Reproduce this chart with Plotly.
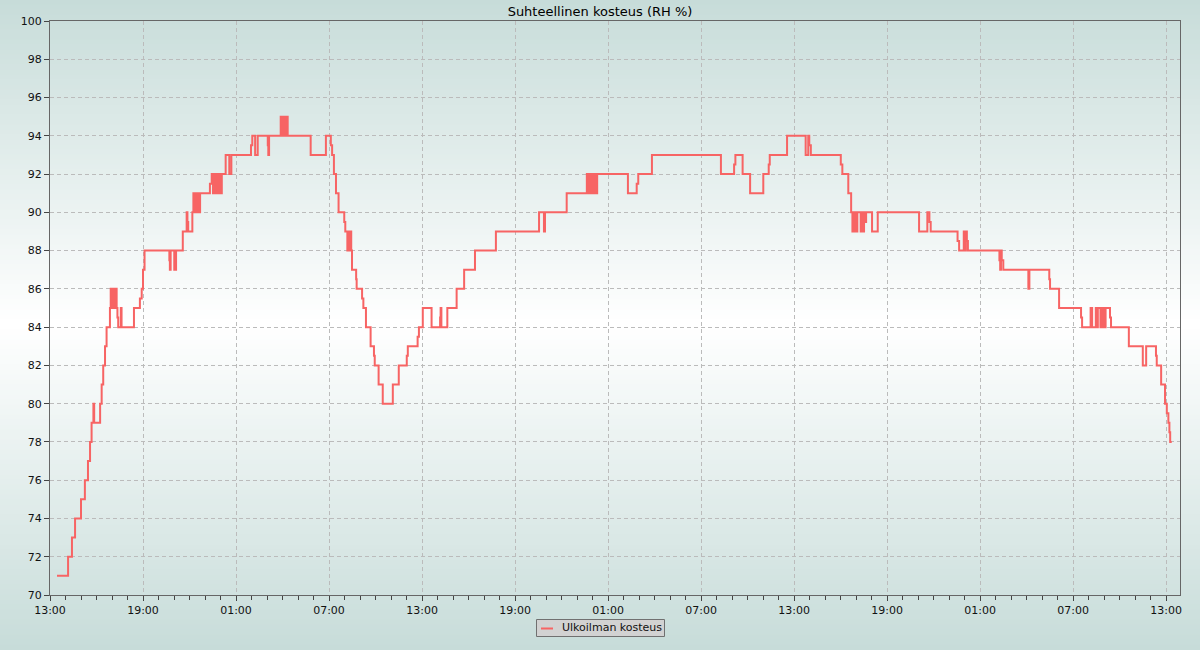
import plotly.graph_objects as go
import pandas as pd

title = "Suhteellinen kosteus (RH %)"
series_name = "Ulkoilman kosteus"
start = "2023-09-12 13:00"

# minutes since start, and RH % values (step series)
offsets = [27, 70, 85, 97, 120, 135, 147, 155, 161, 168, 171, 194, 200, 206, 213, 219, 232,
           235, 240, 245, 250, 255, 258, 261, 264, 274, 277, 325, 348, 355, 360, 366,
           462, 464, 467, 481, 488, 514, 529, 532, 535, 551, 555, 560, 565, 570, 575, 578, 581,
           619, 626, 631, 636, 641, 646, 651, 656, 661, 665, 680, 694, 702, 778, 783, 794, 804,
           843, 845, 848, 893, 897, 901, 905, 909, 913, 917, 920, 1009, 1068, 1087, 1092, 1099,
           1107, 1117, 1139, 1143, 1151, 1154, 1157, 1160, 1166, 1169, 1185, 1187, 1208, 1213,
           1223, 1241, 1254, 1257, 1272, 1288, 1327, 1350, 1381, 1385, 1423, 1428, 1443, 1477,
           1510, 1512, 1515, 1538, 1574, 1603, 1645, 1726, 1893, 1912, 1916, 2000,
           2078, 2082, 2086, 2090, 2094, 2098, 2102, 2106, 2110, 2114, 2118, 2237, 2271, 2277,
           2330, 2597, 2648, 2653, 2681, 2710, 2761, 2782, 2786, 2853, 2925, 2935, 2939, 2945,
           3061, 3067, 3090, 3101, 3106, 3110, 3114, 3118, 3122, 3125, 3138, 3143, 3147, 3151,
           3155, 3159, 3182, 3204, 3364, 3396, 3404, 3409, 3513, 3519, 3537, 3541, 3545, 3549,
           3553, 3675, 3678, 3681, 3684, 3690, 3787, 3791, 3868, 3871, 3906, 3991, 3995,
           4028, 4034, 4048, 4052, 4056, 4066, 4070, 4074, 4078, 4082, 4086, 4103, 4107,
           4176, 4230, 4243, 4281, 4284, 4301, 4316, 4323, 4329, 4333, 4336, 4342]
rh = [71, 72, 73, 74, 75, 76, 77, 78, 79, 80, 79, 80, 81, 82, 83, 84, 85,
      86, 85, 86, 85, 86, 85, 84.5, 84, 85, 84, 85, 85.5, 86, 87, 88,
      87.5, 87, 88, 87, 88, 89, 90, 89.5, 89, 90, 91, 90, 91, 90, 91, 90, 91,
      91.5, 92, 91, 92, 91, 92, 91, 92, 91, 92, 93, 92, 93, 93.5, 94, 93, 94,
      93.5, 93, 94, 95, 94, 95, 94, 95, 94, 95, 94, 93, 94, 93.5, 93, 92,
      91, 90, 89.5, 89, 88, 89, 88, 89, 88, 87, 86.5, 86, 85.5, 85,
      84, 83, 82.5, 82, 81, 80, 81, 82, 82.5, 83, 83.5, 84, 85, 84,
      84.5, 85, 84, 85, 86, 87, 88, 89, 90, 89, 90, 91,
      92, 91, 92, 91, 92, 91, 92, 91, 92, 91, 92, 91, 91.5, 92,
      93, 92, 92.5, 93, 92, 91, 92, 92.5, 93, 94, 93, 94, 93.5, 93,
      92.5, 92, 91, 90, 89, 90, 89, 90, 89, 90, 89, 90, 89, 90,
      89.5, 90, 89, 90, 89, 90, 89.5, 89, 88.5, 88, 89, 88, 89, 88.5,
      88, 87.5, 87, 88, 87.5, 87, 86, 87, 86.5, 86, 85, 84.5, 84,
      85, 84, 85, 84, 85, 84, 85, 84, 85, 84, 85, 84.5, 84,
      83, 82, 83, 82.5, 82, 81, 80, 79.5, 79, 78.5, 78, 78]

y_ticks = list(range(70, 101, 2))

t0 = pd.Timestamp(start)
times = [t0 + pd.Timedelta(minutes=m) for m in offsets]
x_end = t0 + pd.Timedelta(minutes=4374)

W, H = 1200, 650
ML, MR, MT, MB = 50, 20, 21, 55
pw, ph = W - ML - MR, H - MT - MB
LINE_COLOR = "#f76464"

def px_x(x):
    return (x - ML) / pw

def px_y(y):
    return (H - MB - y) / ph

fig = go.Figure()
fig.add_trace(go.Scatter(x=times, y=rh, mode="lines", line=dict(color=LINE_COLOR, width=2, shape="hv"),
                         name=series_name, showlegend=False))

# vertical background gradient (teal edges, white centre)
shapes = []
n = 130
edge = (199, 220, 217)
for i in range(n):
    y0px = i * H / n
    y1px = (i + 1) * H / n
    mid = (y0px + y1px) / 2
    t = abs(mid - H / 2) / (H / 2)
    c = tuple(round(255 - t * (255 - e)) for e in edge)
    shapes.append(dict(type="rect", xref="paper", yref="paper", layer="below",
                       x0=px_x(0) - 0.01, x1=px_x(W) + 0.01,
                       y0=px_y(y1px) - 0.001, y1=px_y(y0px) + 0.001,
                       fillcolor="rgb(%d,%d,%d)" % c, line=dict(width=0)))

# legend box (drawn manually to match the compact legend)
shapes.append(dict(type="rect", xref="paper", yref="paper", layer="above",
                   x0=px_x(536.5), x1=px_x(664.5), y0=px_y(636.5), y1=px_y(619.5),
                   fillcolor="#d2d2d2", line=dict(color="#707070", width=1)))
shapes.append(dict(type="line", xref="paper", yref="paper", layer="above",
                   x0=px_x(541), x1=px_x(553), y0=px_y(628.5), y1=px_y(628.5),
                   line=dict(color=LINE_COLOR, width=2)))
annotations = [dict(text=series_name, xref="paper", yref="paper", x=px_x(560), y=px_y(627.5),
                    xanchor="left", yanchor="middle", showarrow=False,
                    font=dict(family="DejaVu Sans", size=11, color="#111"))]

fig.update_layout(
    width=W, height=H,
    margin=dict(l=ML, r=MR, t=MT, b=MB, autoexpand=False),
    paper_bgcolor="rgba(0,0,0,0)", plot_bgcolor="rgba(0,0,0,0)",
    shapes=shapes, annotations=annotations, showlegend=False,
    font=dict(family="DejaVu Sans", size=11, color="#111"),
    title=dict(text=title, x=0.5, xref="container", xanchor="center",
               y=1 - 11 / H, yref="container", yanchor="middle",
               font=dict(family="DejaVu Sans", size=13, color="#000")),
    xaxis=dict(type="date", range=[t0, x_end], tickformat="%H:%M", automargin=False,
               tick0=t0, dtick=6 * 3600 * 1000, ticks="outside", ticklen=5, tickcolor="#444",
               showgrid=True, gridcolor="#bbbbbb", griddash="4px,3px", gridwidth=1,
               minor=dict(dtick=3600 * 1000, ticks="outside", ticklen=4, tickcolor="#444", showgrid=False),
               showline=True, linecolor="#666", linewidth=1, mirror=True, zeroline=False,
               tickfont=dict(family="DejaVu Sans", size=11, color="#111")),
    yaxis=dict(range=[70, 100], tickvals=y_ticks, ticks="outside", ticklen=5, tickcolor="#444",
               automargin=False,
               showgrid=True, gridcolor="#bbbbbb", griddash="4px,3px", gridwidth=1,
               showline=True, linecolor="#666", linewidth=1, mirror=True, zeroline=False,
               tickfont=dict(family="DejaVu Sans", size=11, color="#111")),
)

fig.write_html("out.html", config={"displayModeBar": False},
               post_script="document.body.style.margin='0';document.body.style.overflow='hidden';")
